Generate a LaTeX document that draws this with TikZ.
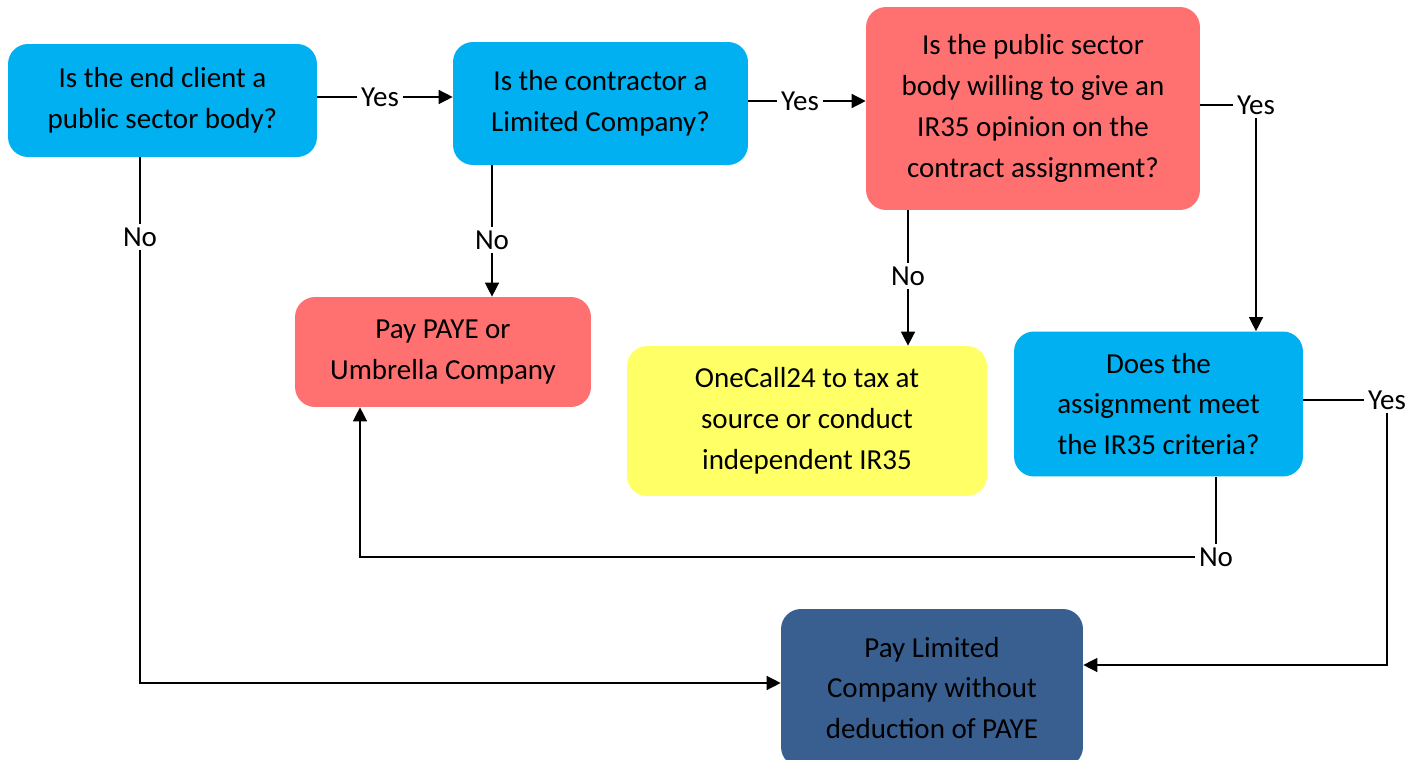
\documentclass[tikz,border=0pt]{standalone}
\usepackage{fontspec}
\setmainfont{Carlito}
\usetikzlibrary{arrows.meta}

\definecolor{qblue}{HTML}{00B0F0}
\definecolor{qred}{HTML}{FF7171}
\definecolor{qyellow}{HTML}{FFFF66}
\definecolor{qdark}{HTML}{385F8F}

\tikzset{
  flowbox/.style={rounded corners=0.4cm, align=center, inner sep=0pt,
    font=\fontsize{16.5}{23.25}\selectfont},
  bluebox/.style={flowbox, fill=qblue},
  redbox/.style={flowbox, fill=qred},
  yellowbox/.style={flowbox, fill=qyellow},
  darkbox/.style={flowbox, fill=qdark},
  answer/.style={fill=white, inner sep=2pt, font=\fontsize{16.5}{20}\selectfont},
  link/.style={line width=0.8pt},
  linkarrow/.style={line width=0.8pt, -{Triangle[length=8pt,width=8pt]}}
}

\begin{document}
\begin{tikzpicture}[x=0.02cm, y=-0.02cm]
\useasboundingbox (0,0) rectangle (1420,760);

% question boxes
\node[bluebox, minimum width=6.18cm, minimum height=2.26cm] (client) at (162.5,100.5)
  {Is the end client a\\public sector body?};
\node[bluebox, minimum width=5.9cm, minimum height=2.46cm] (contractor) at (600.5,103.5)
  {Is the contractor a\\Limited Company?};
\node[redbox, minimum width=6.68cm, minimum height=4.06cm] (opinion) at (1033,108.5)
  {Is the public sector\\body willing to give an\\IR35 opinion on the\\contract assignment?};
\node[bluebox, minimum width=5.78cm, minimum height=2.9cm] (criteria) at (1158.5,404)
  {Does the\\assignment meet\\the IR35 criteria?};

% outcome boxes
\node[redbox, minimum width=5.92cm, minimum height=2.2cm] (paye) at (443,352)
  {Pay PAYE or\\Umbrella Company};
\node[yellowbox, minimum width=7.2cm, minimum height=3.0cm] (onecall) at (807,421)
  {OneCall24 to tax at\\source or conduct\\independent IR35};
\node[darkbox, minimum width=6.04cm, minimum height=3.16cm] (limited) at (932,688)
  {Pay Limited\\Company without\\deduction of PAYE};

% answers
\node[answer] (yesClient) at (380,97) {Yes};
\node[answer] (yesContractor) at (800,101) {Yes};
\node[answer] (yesOpinion) at (1256,105) {Yes};
\node[answer] (yesCriteria) at (1387,400) {Yes};
\node[answer] (noClient) at (140,237) {No};
\node[answer] (noContractor) at (492,240) {No};
\node[answer] (noOpinion) at (908,276) {No};
\node[answer] (noCriteria) at (1216,557) {No};
\coordinate (payeTurn) at (360,553);
\coordinate (limitedRight) at ([yshift=0.46cm]limited.east);
\coordinate (limitedLeft) at ([yshift=0.1cm]limited.west);

% connectors
\draw[link] (client.east |- yesClient) -- (yesClient.west);
\draw[linkarrow] (yesClient.east) -- (contractor.west |- yesClient);

\draw[link] (contractor.east |- yesContractor) -- (yesContractor.west);
\draw[linkarrow] (yesContractor.east) -- (opinion.west |- yesContractor);

\draw[link] (opinion.east |- yesOpinion) -- (yesOpinion.west);
\draw[linkarrow] (yesOpinion.south) -- (criteria.north -| yesOpinion);

\draw[link] (criteria.east |- yesCriteria) -- (yesCriteria.west);
\draw[linkarrow] (yesCriteria.south) -- (yesCriteria.south |- limitedRight) -- (limitedRight);

\draw[link] (client.south -| noClient) -- (noClient.north);
\draw[linkarrow] (noClient.south) -- (noClient.south |- limitedLeft) -- (limitedLeft);

\draw[link] (contractor.south -| noContractor) -- (noContractor.north);
\draw[linkarrow] (noContractor.south) -- (paye.north -| noContractor);

\draw[link] (opinion.south -| noOpinion) -- (noOpinion.north);
\draw[linkarrow] (noOpinion.south) -- (onecall.north -| noOpinion);

\draw[link] (criteria.south -| noCriteria) -- (noCriteria.north);
\draw[linkarrow] (noCriteria.west) -- (noCriteria.west -| payeTurn) -- (paye.south -| payeTurn);
\end{tikzpicture}
\end{document}
